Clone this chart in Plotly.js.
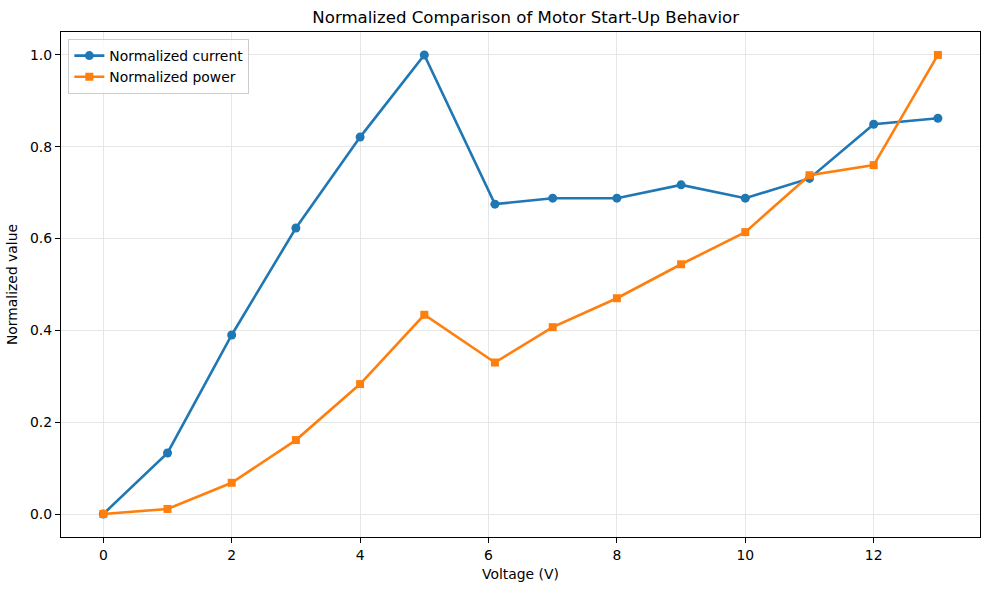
<!DOCTYPE html>
<html><head><meta charset="utf-8">
<script src="https://cdn.plot.ly/plotly-3.0.1.min.js"></script>
<style>body{margin:0;padding:0;background:#fff}#chart{width:989px;height:590px}</style>
</head><body><div id="chart"></div>
<script>
const voltage = [0, 1, 2, 3, 4, 5, 6.1, 7, 8, 9, 10, 11, 12, 13];
const normCurrent = [0, 0.133, 0.390, 0.623, 0.821, 1.0, 0.675, 0.688, 0.688, 0.717, 0.688, 0.731, 0.849, 0.862];
const normPower = [0, 0.011, 0.068, 0.161, 0.283, 0.434, 0.330, 0.407, 0.470, 0.544, 0.614, 0.738, 0.760, 1.0];
const xTicks = [0, 2, 4, 6, 8, 10, 12];
const yTicks = [0, 0.2, 0.4, 0.6, 0.8, 1.0];
const yTickText = ["0.0", "0.2", "0.4", "0.6", "0.8", "1.0"];

const font = {family: "DejaVu Sans, sans-serif", size: 13.9, color: "#000"};
const traces = [
  {x: voltage, y: normCurrent, name: "Normalized current", type: "scatter", mode: "lines+markers",
   line: {color: "#1f77b4", width: 2.6}, marker: {symbol: "circle", size: 9, color: "#1f77b4"}},
  {x: voltage, y: normPower, name: "Normalized power", type: "scatter", mode: "lines+markers",
   line: {color: "#ff7f0e", width: 2.6}, marker: {symbol: "square", size: 8, color: "#ff7f0e"}}
];
const axisCommon = {showline: true, linecolor: "#000", linewidth: 1.2, mirror: true,
  ticks: "outside", ticklen: 5, tickcolor: "#000", tickwidth: 1,
  showgrid: true, gridcolor: "#e6e6e6", gridwidth: 1, zeroline: false, tickfont: font};
const layout = {
  width: 989, height: 590,
  margin: {l: 61, r: 9, t: 32, b: 53},
  paper_bgcolor: "#fff", plot_bgcolor: "#fff",
  font: font,
  title: {text: "Normalized Comparison of Motor Start-Up Behavior", font: {family: "DejaVu Sans, sans-serif", size: 16.6, color: "#000"},
    x: 0.5315, xanchor: "center", xref: "container", y: 0.971, yanchor: "middle", yref: "container"},
  xaxis: Object.assign({}, axisCommon, {range: [-0.659, 13.656], tickvals: xTicks,
    title: {text: "Voltage (V)", font: font, standoff: 7}}),
  yaxis: Object.assign({}, axisCommon, {range: [-0.0501, 1.050], tickvals: yTicks, ticktext: yTickText,
    title: {text: "Normalized value", font: font, standoff: 9}}),
  showlegend: true,
  legend: {x: 0.008, y: 0.986, xanchor: "left", yanchor: "top", bgcolor: "rgba(255,255,255,0.8)",
    bordercolor: "#cccccc", borderwidth: 1, font: font, tracegroupgap: 0, itemwidth: 30}
};
Plotly.newPlot("chart", traces, layout, {displayModeBar: false, staticPlot: true});
</script></body></html>
